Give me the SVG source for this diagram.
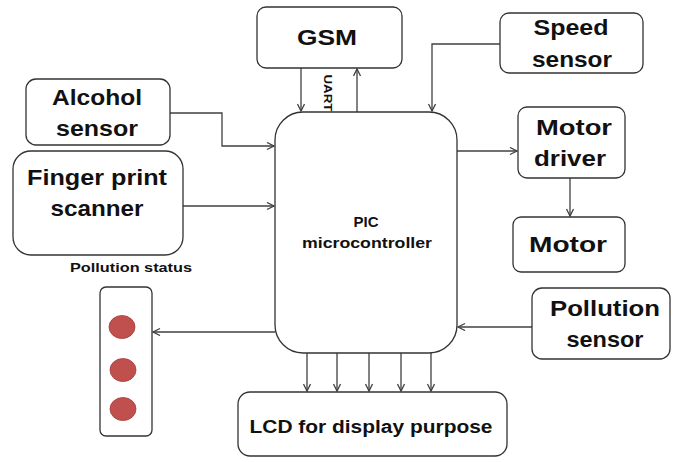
<svg xmlns="http://www.w3.org/2000/svg" width="673" height="462" viewBox="0 0 673 462">
<style>
.box{fill:#fff;stroke:#333;stroke-width:1.3}
.ln{fill:none;stroke:#404040;stroke-width:1.3;marker-end:url(#ah)}
.t{font-family:"Liberation Sans",Arial,sans-serif;font-weight:bold;fill:#111;text-anchor:middle}
.big{font-size:22px}
.sm{font-size:12px}
.led{fill:#C0504D;stroke:#A5403D;stroke-width:0.8}
</style>
<defs>
<marker id="ah" markerWidth="10" markerHeight="10" refX="8" refY="4" orient="auto" markerUnits="userSpaceOnUse">
<path d="M1,0.5 L8,4 L1,7.5" fill="none" stroke="#404040" stroke-width="1.3"/>
</marker>
</defs>
<rect width="673" height="462" fill="#fff"/>
<g id="connectors">
<path class="ln" d="M301,68 V111"/>
<path class="ln" d="M357,112 V69"/>
<path class="ln" d="M170,113 H222 V146 H274"/>
<path class="ln" d="M183,206 H274"/>
<path class="ln" d="M500,44 H432 V111"/>
<path class="ln" d="M457,151 H517"/>
<path class="ln" d="M570,178 V216"/>
<path class="ln" d="M532,327 H458"/>
<path class="ln" d="M275,332 H153"/>
<path class="ln" d="M307,353 V391"/>
<path class="ln" d="M337,353 V391"/>
<path class="ln" d="M369,353 V391"/>
<path class="ln" d="M401,353 V391"/>
<path class="ln" d="M431,353 V391"/>
</g>
<text class="t" transform="translate(324,93) rotate(90)" font-size="11" textLength="37" lengthAdjust="spacingAndGlyphs">UART</text>
<g id="gsm">
<rect class="box" x="257" y="7" width="145" height="61" rx="9"/>
<text class="t big" x="327" y="45" textLength="60" lengthAdjust="spacingAndGlyphs">GSM</text>
</g>
<g id="alcohol">
<rect class="box" x="26" y="79" width="144" height="66" rx="10"/>
<text class="t big" x="97" y="105" textLength="90" lengthAdjust="spacingAndGlyphs">Alcohol</text>
<text class="t big" x="97" y="136" textLength="82" lengthAdjust="spacingAndGlyphs">sensor</text>
</g>
<g id="finger">
<rect class="box" x="13" y="151" width="170" height="104" rx="18"/>
<text class="t big" x="97" y="185" textLength="140" lengthAdjust="spacingAndGlyphs">Finger print</text>
<text class="t big" x="97" y="216" textLength="93" lengthAdjust="spacingAndGlyphs">scanner</text>
</g>
<text class="t sm" x="131" y="272" textLength="122" lengthAdjust="spacingAndGlyphs">Pollution  status</text>
<g id="lights">
<rect class="box" x="100" y="287" width="52" height="149" rx="6"/>
<ellipse class="led" cx="122" cy="327" rx="13" ry="11.5"/>
<ellipse class="led" cx="123" cy="370" rx="13" ry="11.5"/>
<ellipse class="led" cx="123" cy="409" rx="13" ry="11.5"/>
</g>
<g id="micro">
<rect class="box" x="275" y="112" width="182" height="241" rx="28"/>
<text class="t" x="366" y="227" font-size="14" textLength="25" lengthAdjust="spacingAndGlyphs">PIC</text>
<text class="t" x="367" y="248" font-size="14" textLength="130" lengthAdjust="spacingAndGlyphs">microcontroller</text>
</g>
<g id="speed">
<rect class="box" x="500" y="13" width="143" height="60" rx="9"/>
<text class="t big" x="571" y="35" textLength="75" lengthAdjust="spacingAndGlyphs">Speed</text>
<text class="t big" x="572" y="67" textLength="80" lengthAdjust="spacingAndGlyphs">sensor</text>
</g>
<g id="motordriver">
<rect class="box" x="518" y="107" width="107" height="71" rx="9"/>
<text class="t big" x="574" y="135" textLength="76" lengthAdjust="spacingAndGlyphs">Motor</text>
<text class="t big" x="570" y="166" textLength="72" lengthAdjust="spacingAndGlyphs">driver</text>
</g>
<g id="motor">
<rect class="box" x="513" y="217" width="112" height="55" rx="8"/>
<text class="t big" x="568" y="252" textLength="78" lengthAdjust="spacingAndGlyphs">Motor</text>
</g>
<g id="pollution">
<rect class="box" x="532" y="288" width="138" height="71" rx="10"/>
<text class="t big" x="605" y="316" textLength="110" lengthAdjust="spacingAndGlyphs">Pollution</text>
<text class="t big" x="605" y="347" textLength="77" lengthAdjust="spacingAndGlyphs">sensor</text>
</g>
<g id="lcd">
<rect class="box" x="238" y="392" width="269" height="64" rx="12"/>
<text class="t" x="371" y="433" font-size="18" textLength="243" lengthAdjust="spacingAndGlyphs">LCD for display purpose</text>
</g>
</svg>
